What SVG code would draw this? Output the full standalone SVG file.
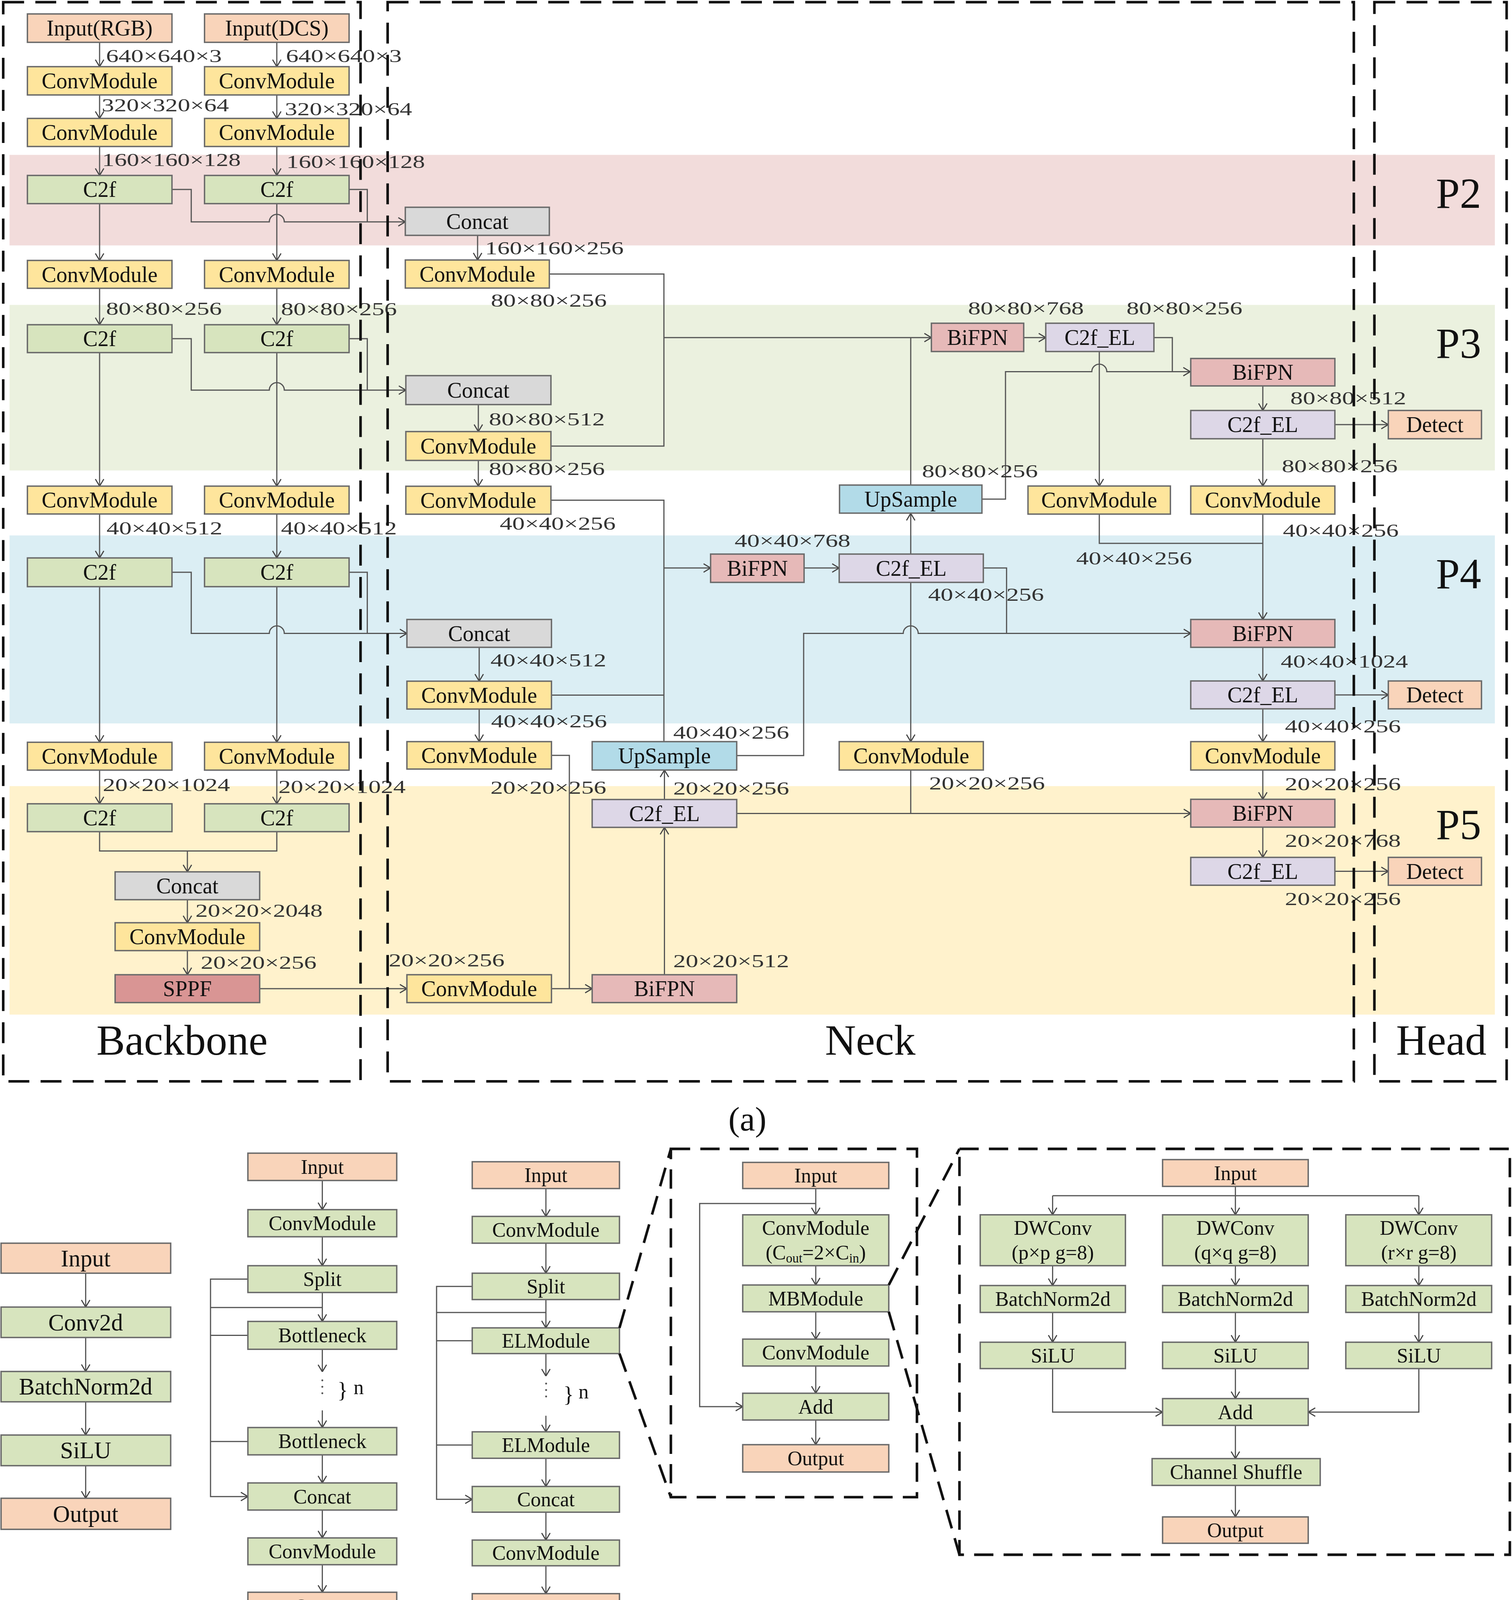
<svg xmlns="http://www.w3.org/2000/svg" width="3872" height="4302" viewBox="0 0 3872 4302">
<defs>
<style>
.n{stroke:#6a6a6a;stroke-width:1.3}
.pe{fill:#f9d4ba}.ye{fill:#fee59c}.gr{fill:#d7e4be}.gy{fill:#d9d9d9}.bi{fill:#e6b9b8}.el{fill:#ddd7e7}.up{fill:#b2dbe8}.sp{fill:#d99594}
.t{font-family:"Liberation Serif","Times New Roman",serif;font-size:20.5px;text-anchor:middle;fill:#111}
.s{font-size:19px}
.b{font-size:22px}
.d{font-family:"Liberation Serif","Times New Roman",serif;font-size:17.3px;fill:#333}
.big{font-family:"Liberation Serif","Times New Roman",serif;font-size:40px;fill:#111}
.lab{font-family:"Liberation Serif","Times New Roman",serif;font-size:32px;fill:#111;text-anchor:middle}
.c{fill:none;stroke:#555;stroke-width:1.1}
.ar{marker-end:url(#ah)}
.dash{fill:none;stroke:#111;stroke-width:2.4;stroke-dasharray:19.5 10.5}
.dash2{fill:none;stroke:#111;stroke-width:2.4;stroke-dasharray:18 9.5}
.dot{fill:#555}
</style>
<marker id="ah" viewBox="0 0 8 10" refX="8" refY="5" markerWidth="7" markerHeight="9" orient="auto" markerUnits="userSpaceOnUse">
<path d="M0.5,0.5 L8,5 L0.5,9.5" fill="none" stroke="#444" stroke-width="1.2"/>
</marker>
</defs>
<rect width="3872" height="4302" fill="#ffffff"/>
<g transform="scale(2.7422 2.7436)">

<g id="bands">
<rect x="8.9" y="144.5" width="1387.1" height="84.5" fill="#f2dcdb"/>
<rect x="8.9" y="284.5" width="1387.1" height="154.5" fill="#ebf1df"/>
<rect x="8.9" y="499.6" width="1387.1" height="175.4" fill="#dbeef4"/>
<rect x="8.9" y="733.5" width="1387.1" height="213.2" fill="#fff2cc"/>
<text class="big" x="1341" y="194">P2</text>
<text class="big" x="1341" y="334">P3</text>
<text class="big" x="1341" y="549">P4</text>
<text class="big" x="1341" y="783">P5</text>
</g>

<g id="connectors">
<path class="c ar" d="M93,39.5 V62.2"/>
<path class="c ar" d="M93,88.6 V110.5"/>
<path class="c ar" d="M93,136.7 V163.7"/>
<path class="c ar" d="M93,190 V243"/>
<path class="c ar" d="M93,269 V303"/>
<path class="c ar" d="M93,329 V453.6"/>
<path class="c ar" d="M93,479.6 V520.6"/>
<path class="c ar" d="M93,547.4 V692.6"/>
<path class="c ar" d="M93,718.6 V750"/>
<path class="c ar" d="M258.5,39.5 V62.2"/>
<path class="c ar" d="M258.5,88.6 V110.5"/>
<path class="c ar" d="M258.5,136.7 V163.7"/>
<path class="c ar" d="M258.5,190 V243"/>
<path class="c ar" d="M258.5,269 V303"/>
<path class="c ar" d="M258.5,329 V453.6"/>
<path class="c ar" d="M258.5,479.6 V520.6"/>
<path class="c ar" d="M258.5,547.4 V692.6"/>
<path class="c ar" d="M258.5,718.6 V750"/>
<path class="c ar" d="M160.6,176.8 H178.6 V207 H251.5 A7,7 0 0 1 265.5,207 H378.5"/>
<path class="c" d="M326,176.8 H343 V207"/>
<path class="c ar" d="M160.6,316 H178.6 V364 H251.5 A7,7 0 0 1 265.5,364 H379"/>
<path class="c" d="M326,316 H343 V364"/>
<path class="c ar" d="M160.6,534 H178.6 V591 H251.5 A7,7 0 0 1 265.5,591 H380"/>
<path class="c" d="M326,534 H343 V591"/>
<path class="c" d="M93,776 V794 H258.5 V776"/>
<path class="c ar" d="M175,794 V813.5"/>
<path class="c ar" d="M175,839.5 V861"/>
<path class="c ar" d="M175,887 V909.5"/>
<path class="c ar" d="M242.5,922.5 H380"/>
<path class="c ar" d="M446,219.6 V242.6"/>
<path class="c" d="M513,255.7 H620 V416.2 H514.5"/>
<path class="c ar" d="M620,315 H869.8"/>
<path class="c" d="M850.5,452.6 V315"/>
<path class="c ar" d="M446.7,377.5 V402.7"/>
<path class="c ar" d="M446.7,429.6 V453.7"/>
<path class="c" d="M514.5,466.7 H620 V692"/>
<path class="c" d="M515,648.6 H620"/>
<path class="c ar" d="M620,530 H663.6"/>
<path class="c ar" d="M447.5,604 V635.6"/>
<path class="c ar" d="M447.5,661.6 V692"/>
<path class="c" d="M515,704.8 H531.7 V922.5"/>
<path class="c ar" d="M515,922.5 H553"/>
<path class="c ar" d="M620.5,909.5 V772"/>
<path class="c ar" d="M620.5,746 V718.5"/>
<path class="c ar" d="M688,705 H750.5 V591 H843.5 A7,7 0 0 1 857.5,591 H1112"/>
<path class="c ar" d="M688,759 H1112"/>
<path class="c" d="M850.5,718.5 V759"/>
<path class="c ar" d="M751,530 H783.7"/>
<path class="c ar" d="M850.5,517 V479"/>
<path class="c ar" d="M850.5,543.4 V692"/>
<path class="c" d="M918.3,530 H940 V591"/>
<path class="c ar" d="M917,465.7 H939 V346.8 H1019.6 A7,7 0 0 1 1033.6,346.8 H1111.6"/>
<path class="c ar" d="M956,315 H976.6"/>
<path class="c" d="M1077.6,315 H1094.8 V346.8"/>
<path class="c ar" d="M1026.6,328 V453.5"/>
<path class="c" d="M1026.6,479.7 V507 H1179.3"/>
<path class="c ar" d="M1179.3,360.1 V383"/>
<path class="c ar" d="M1179.3,409.4 V453.5"/>
<path class="c ar" d="M1179.3,479.7 V578"/>
<path class="c ar" d="M1179.3,604 V635.4"/>
<path class="c ar" d="M1179.3,661.4 V692"/>
<path class="c ar" d="M1179.3,718.5 V745.8"/>
<path class="c ar" d="M1179.3,771.8 V800"/>
<path class="c ar" d="M1246.6,396.2 H1296.5"/>
<path class="c ar" d="M1246.6,648.4 H1296.5"/>
<path class="c ar" d="M1246.6,813 H1296.5"/>
<path class="c ar" d="M80,1188 V1219.6"/>
<path class="c ar" d="M80,1248 V1279.7"/>
<path class="c ar" d="M80,1308 V1339"/>
<path class="c ar" d="M80,1367.6 V1398"/>
<path class="c ar" d="M301,1101.5 V1128.7"/>
<path class="c ar" d="M301,1154 V1181"/>
<path class="c ar" d="M301,1206 V1233"/>
<path class="c ar" d="M301,1259 V1280"/>
<path class="c ar" d="M301,1316 V1332"/>
<path class="c ar" d="M301,1357.5 V1383.7"/>
<path class="c ar" d="M301,1409 V1435"/>
<path class="c ar" d="M301,1460 V1485.7"/>
<path class="c ar" d="M231.5,1193.5 H196.6 V1396.4 H231.5"/>
<path class="c" d="M196.6,1220 H301"/>
<path class="c" d="M231.5,1246 H196.6"/>
<path class="c" d="M231.5,1345 H196.6"/>
<path class="c ar" d="M509.8,1109 V1135"/>
<path class="c ar" d="M509.8,1160 V1188"/>
<path class="c ar" d="M509.8,1212.6 V1239"/>
<path class="c ar" d="M509.8,1263 V1284"/>
<path class="c ar" d="M509.8,1321 V1336"/>
<path class="c ar" d="M509.8,1360.7 V1387"/>
<path class="c ar" d="M509.8,1411 V1437"/>
<path class="c ar" d="M509.8,1461 V1487"/>
<path class="c ar" d="M441,1200.3 H407.7 V1399 H441"/>
<path class="c" d="M407.7,1224.7 H509.8"/>
<path class="c" d="M441,1251 H407.7"/>
<path class="c" d="M441,1348.3 H407.7"/>
<path class="c ar" d="M761.8,1109 V1133.5"/>
<path class="c ar" d="M761.8,1181 V1199"/>
<path class="c ar" d="M761.8,1224 V1249.5"/>
<path class="c ar" d="M761.8,1274.6 V1300"/>
<path class="c ar" d="M761.8,1325 V1348"/>
<path class="c ar" d="M761.8,1123 H653.4 V1312.5 H693.6"/>
<path class="c ar" d="M1153.7,1107 V1133.5"/>
<path class="c" d="M983,1115.7 H1325"/>
<path class="c ar" d="M983,1115.7 V1133.5"/>
<path class="c ar" d="M1325,1115.7 V1133.5"/>
<path class="c ar" d="M983,1181 V1199.5"/>
<path class="c ar" d="M1153.7,1181 V1199.5"/>
<path class="c ar" d="M1325,1181 V1199.5"/>
<path class="c ar" d="M983,1224.6 V1252.4"/>
<path class="c ar" d="M1153.7,1224.6 V1252.4"/>
<path class="c ar" d="M1325,1224.6 V1252.4"/>
<path class="c ar" d="M983,1277 V1317.6 H1085.7"/>
<path class="c ar" d="M1325,1277 V1317.6 H1221.7"/>
<path class="c ar" d="M1153.7,1277 V1305"/>
<path class="c ar" d="M1153.7,1330 V1361"/>
<path class="c ar" d="M1153.7,1386 V1415.4"/>
</g>

<g id="backbone-nodes">
<g id="bb-input-rgb"><rect class="n pe" x="25.6" y="13" width="135" height="26.5"/><text class="t" x="93" y="33.2">Input(RGB)</text></g>
<g id="bb-input-dcs"><rect class="n pe" x="191" y="13" width="135" height="26.5"/><text class="t" x="258.5" y="33.2">Input(DCS)</text></g>
<g id="bb-conv1a"><rect class="n ye" x="25.6" y="62.2" width="135" height="26.4"/><text class="t" x="93" y="82.4">ConvModule</text></g>
<g id="bb-conv1b"><rect class="n ye" x="191" y="62.2" width="135" height="26.4"/><text class="t" x="258.5" y="82.4">ConvModule</text></g>
<g id="bb-conv2a"><rect class="n ye" x="25.6" y="110.5" width="135" height="26.2"/><text class="t" x="93" y="130.6">ConvModule</text></g>
<g id="bb-conv2b"><rect class="n ye" x="191" y="110.5" width="135" height="26.2"/><text class="t" x="258.5" y="130.6">ConvModule</text></g>
<g id="bb-c2f1a"><rect class="n gr" x="25.6" y="163.7" width="135" height="26.3"/><text class="t" x="93" y="183.8">C2f</text></g>
<g id="bb-c2f1b"><rect class="n gr" x="191" y="163.7" width="135" height="26.3"/><text class="t" x="258.5" y="183.8">C2f</text></g>
<g id="bb-conv3a"><rect class="n ye" x="25.6" y="243" width="135" height="26"/><text class="t" x="93" y="263">ConvModule</text></g>
<g id="bb-conv3b"><rect class="n ye" x="191" y="243" width="135" height="26"/><text class="t" x="258.5" y="263">ConvModule</text></g>
<g id="bb-c2f2a"><rect class="n gr" x="25.6" y="303" width="135" height="26"/><text class="t" x="93" y="323">C2f</text></g>
<g id="bb-c2f2b"><rect class="n gr" x="191" y="303" width="135" height="26"/><text class="t" x="258.5" y="323">C2f</text></g>
<g id="bb-conv4a"><rect class="n ye" x="25.6" y="453.6" width="135" height="26"/><text class="t" x="93" y="473.6">ConvModule</text></g>
<g id="bb-conv4b"><rect class="n ye" x="191" y="453.6" width="135" height="26"/><text class="t" x="258.5" y="473.6">ConvModule</text></g>
<g id="bb-c2f3a"><rect class="n gr" x="25.6" y="520.6" width="135" height="26.8"/><text class="t" x="93" y="541">C2f</text></g>
<g id="bb-c2f3b"><rect class="n gr" x="191" y="520.6" width="135" height="26.8"/><text class="t" x="258.5" y="541">C2f</text></g>
<g id="bb-conv5a"><rect class="n ye" x="25.6" y="692.6" width="135" height="26"/><text class="t" x="93" y="712.6">ConvModule</text></g>
<g id="bb-conv5b"><rect class="n ye" x="191" y="692.6" width="135" height="26"/><text class="t" x="258.5" y="712.6">ConvModule</text></g>
<g id="bb-c2f4a"><rect class="n gr" x="25.6" y="750" width="135" height="26"/><text class="t" x="93" y="770">C2f</text></g>
<g id="bb-c2f4b"><rect class="n gr" x="191" y="750" width="135" height="26"/><text class="t" x="258.5" y="770">C2f</text></g>
<g id="bb-concat"><rect class="n gy" x="107.5" y="813.5" width="135" height="26"/><text class="t" x="175" y="833.5">Concat</text></g>
<g id="bb-conv6"><rect class="n ye" x="107.5" y="861" width="135" height="26"/><text class="t" x="175" y="881">ConvModule</text></g>
<g id="bb-sppf"><rect class="n sp" x="107.5" y="909.5" width="135" height="26"/><text class="t" x="175" y="929.5">SPPF</text></g>
</g>

<g id="neck-nodes">
<g id="nk-concat1"><rect class="n gy" x="378.5" y="193.4" width="134.5" height="26.2"/><text class="t" x="445.8" y="213.5">Concat</text></g>
<g id="nk-conv1"><rect class="n ye" x="378.5" y="242.6" width="134.5" height="26.2"/><text class="t" x="445.8" y="262.7">ConvModule</text></g>
<g id="nk-concat2"><rect class="n gy" x="379" y="350.5" width="135.5" height="27"/><text class="t" x="446.7" y="371">Concat</text></g>
<g id="nk-conv2"><rect class="n ye" x="379" y="402.7" width="135.5" height="26.9"/><text class="t" x="446.7" y="423.1">ConvModule</text></g>
<g id="nk-conv3"><rect class="n ye" x="379" y="453.7" width="135.5" height="26.1"/><text class="t" x="446.7" y="473.8">ConvModule</text></g>
<g id="nk-concat3"><rect class="n gy" x="380" y="578" width="135" height="26"/><text class="t" x="447.5" y="598">Concat</text></g>
<g id="nk-conv4"><rect class="n ye" x="380" y="635.6" width="135" height="26"/><text class="t" x="447.5" y="655.6">ConvModule</text></g>
<g id="nk-conv5"><rect class="n ye" x="380" y="692" width="135" height="25.6"/><text class="t" x="447.5" y="711.8">ConvModule</text></g>
<g id="nk-conv6"><rect class="n ye" x="380" y="909.5" width="135" height="26"/><text class="t" x="447.5" y="929.5">ConvModule</text></g>
<g id="nk-upsample1"><rect class="n up" x="553" y="692" width="135" height="26.5"/><text class="t" x="620.5" y="712.2">UpSample</text></g>
<g id="nk-c2fel1"><rect class="n el" x="553" y="746" width="135" height="26"/><text class="t" x="620.5" y="766">C2f_EL</text></g>
<g id="nk-bifpn1"><rect class="n bi" x="553" y="909.5" width="135" height="26"/><text class="t" x="620.5" y="929.5">BiFPN</text></g>
<g id="nk-bifpn2"><rect class="n bi" x="663.6" y="517" width="87.3" height="26.4"/><text class="t" x="707.3" y="537.2">BiFPN</text></g>
<g id="nk-c2fel2"><rect class="n el" x="783.7" y="517" width="134.6" height="26.4"/><text class="t" x="851" y="537.2">C2f_EL</text></g>
<g id="nk-upsample2"><rect class="n up" x="784" y="452.6" width="133" height="26.2"/><text class="t" x="850.5" y="472.7">UpSample</text></g>
<g id="nk-conv7"><rect class="n ye" x="783.7" y="692" width="134.6" height="26.5"/><text class="t" x="851" y="712.2">ConvModule</text></g>
<g id="nk-bifpn3"><rect class="n bi" x="869.8" y="301.6" width="86.2" height="26.4"/><text class="t" x="912.9" y="321.8">BiFPN</text></g>
<g id="nk-c2fel3"><rect class="n el" x="976.6" y="301.6" width="101" height="26.4"/><text class="t" x="1027.1" y="321.8">C2f_EL</text></g>
<g id="nk-conv8"><rect class="n ye" x="960" y="453.5" width="133" height="26.2"/><text class="t" x="1026.5" y="473.6">ConvModule</text></g>
</g>

<g id="head-nodes">
<g id="hd-bifpn1"><rect class="n bi" x="1112" y="334.5" width="134.6" height="25.6"/><text class="t" x="1179.3" y="354.3">BiFPN</text></g>
<g id="hd-c2fel1"><rect class="n el" x="1112" y="383" width="134.6" height="26.4"/><text class="t" x="1179.3" y="403.2">C2f_EL</text></g>
<g id="hd-conv1"><rect class="n ye" x="1112" y="453.5" width="134.6" height="26.2"/><text class="t" x="1179.3" y="473.6">ConvModule</text></g>
<g id="hd-bifpn2"><rect class="n bi" x="1112" y="578" width="134.6" height="26"/><text class="t" x="1179.3" y="598">BiFPN</text></g>
<g id="hd-c2fel2"><rect class="n el" x="1112" y="635.4" width="134.6" height="26"/><text class="t" x="1179.3" y="655.4">C2f_EL</text></g>
<g id="hd-conv2"><rect class="n ye" x="1112" y="692" width="134.6" height="26.5"/><text class="t" x="1179.3" y="712.2">ConvModule</text></g>
<g id="hd-bifpn3"><rect class="n bi" x="1112" y="745.8" width="134.6" height="26"/><text class="t" x="1179.3" y="765.8">BiFPN</text></g>
<g id="hd-c2fel3"><rect class="n el" x="1112" y="800" width="134.6" height="26"/><text class="t" x="1179.3" y="820">C2f_EL</text></g>
<g id="hd-detect1"><rect class="n pe" x="1296.5" y="383" width="87" height="26.4"/><text class="t" x="1340" y="403.2">Detect</text></g>
<g id="hd-detect2"><rect class="n pe" x="1296.5" y="635.4" width="87" height="26"/><text class="t" x="1340" y="655.4">Detect</text></g>
<g id="hd-detect3"><rect class="n pe" x="1296.5" y="800" width="87" height="26"/><text class="t" x="1340" y="820">Detect</text></g>
</g>

<g id="dims">
<text class="d" x="99" y="58.1" textLength="108.2" lengthAdjust="spacingAndGlyphs">640×640×3</text>
<text class="d" x="267" y="58.1" textLength="108.2" lengthAdjust="spacingAndGlyphs">640×640×3</text>
<text class="d" x="95" y="103.8" textLength="118.8" lengthAdjust="spacingAndGlyphs">320×320×64</text>
<text class="d" x="266" y="107.4" textLength="118.8" lengthAdjust="spacingAndGlyphs">320×320×64</text>
<text class="d" x="95.4" y="154.8" textLength="129.4" lengthAdjust="spacingAndGlyphs">160×160×128</text>
<text class="d" x="267.5" y="156.8" textLength="129.4" lengthAdjust="spacingAndGlyphs">160×160×128</text>
<text class="d" x="99" y="293.8" textLength="108.2" lengthAdjust="spacingAndGlyphs">80×80×256</text>
<text class="d" x="262.4" y="294.3" textLength="108.2" lengthAdjust="spacingAndGlyphs">80×80×256</text>
<text class="d" x="99.5" y="498.5" textLength="108.2" lengthAdjust="spacingAndGlyphs">40×40×512</text>
<text class="d" x="262.4" y="498.5" textLength="108.2" lengthAdjust="spacingAndGlyphs">40×40×512</text>
<text class="d" x="96" y="738.2" textLength="118.8" lengthAdjust="spacingAndGlyphs">20×20×1024</text>
<text class="d" x="260" y="739.8" textLength="118.8" lengthAdjust="spacingAndGlyphs">20×20×1024</text>
<text class="d" x="182.5" y="855.4" textLength="118.8" lengthAdjust="spacingAndGlyphs">20×20×2048</text>
<text class="d" x="187.4" y="903.8" textLength="108.2" lengthAdjust="spacingAndGlyphs">20×20×256</text>
<text class="d" x="453" y="237.3" textLength="129.4" lengthAdjust="spacingAndGlyphs">160×160×256</text>
<text class="d" x="458.4" y="286.1" textLength="108.2" lengthAdjust="spacingAndGlyphs">80×80×256</text>
<text class="d" x="456.6" y="397.1" textLength="108.2" lengthAdjust="spacingAndGlyphs">80×80×512</text>
<text class="d" x="456.6" y="443.1" textLength="108.2" lengthAdjust="spacingAndGlyphs">80×80×256</text>
<text class="d" x="466.7" y="494.4" textLength="108.2" lengthAdjust="spacingAndGlyphs">40×40×256</text>
<text class="d" x="458" y="621.8" textLength="108.2" lengthAdjust="spacingAndGlyphs">40×40×512</text>
<text class="d" x="458.6" y="678.8" textLength="108.2" lengthAdjust="spacingAndGlyphs">40×40×256</text>
<text class="d" x="458" y="740.8" textLength="108.2" lengthAdjust="spacingAndGlyphs">20×20×256</text>
<text class="d" x="363" y="901.8" textLength="108.2" lengthAdjust="spacingAndGlyphs">20×20×256</text>
<text class="d" x="628.7" y="689.3" textLength="108.2" lengthAdjust="spacingAndGlyphs">40×40×256</text>
<text class="d" x="628.7" y="741.4" textLength="108.2" lengthAdjust="spacingAndGlyphs">20×20×256</text>
<text class="d" x="628.7" y="902.3" textLength="108.2" lengthAdjust="spacingAndGlyphs">20×20×512</text>
<text class="d" x="686" y="510.2" textLength="108.2" lengthAdjust="spacingAndGlyphs">40×40×768</text>
<text class="d" x="866.7" y="560.6" textLength="108.2" lengthAdjust="spacingAndGlyphs">40×40×256</text>
<text class="d" x="867.6" y="736.8" textLength="108.2" lengthAdjust="spacingAndGlyphs">20×20×256</text>
<text class="d" x="861" y="445.3" textLength="108.2" lengthAdjust="spacingAndGlyphs">80×80×256</text>
<text class="d" x="904" y="293.5" textLength="108.2" lengthAdjust="spacingAndGlyphs">80×80×768</text>
<text class="d" x="1052" y="293.5" textLength="108.2" lengthAdjust="spacingAndGlyphs">80×80×256</text>
<text class="d" x="1005" y="526.6" textLength="108.2" lengthAdjust="spacingAndGlyphs">40×40×256</text>
<text class="d" x="1205" y="377.4" textLength="108.2" lengthAdjust="spacingAndGlyphs">80×80×512</text>
<text class="d" x="1197" y="440.8" textLength="108.2" lengthAdjust="spacingAndGlyphs">80×80×256</text>
<text class="d" x="1198" y="500.8" textLength="108.2" lengthAdjust="spacingAndGlyphs">40×40×256</text>
<text class="d" x="1196" y="622.8" textLength="118.8" lengthAdjust="spacingAndGlyphs">40×40×1024</text>
<text class="d" x="1200" y="683.5" textLength="108.2" lengthAdjust="spacingAndGlyphs">40×40×256</text>
<text class="d" x="1200" y="737.4" textLength="108.2" lengthAdjust="spacingAndGlyphs">20×20×256</text>
<text class="d" x="1200" y="790.3" textLength="108.2" lengthAdjust="spacingAndGlyphs">20×20×768</text>
<text class="d" x="1200" y="844.6" textLength="108.2" lengthAdjust="spacingAndGlyphs">20×20×256</text>
</g>

<g id="frames">
<rect class="dash" x="3" y="2" width="333.7" height="1007"/>
<rect class="dash" x="362" y="2" width="902.3" height="1007"/>
<rect class="dash" x="1283.5" y="2" width="123.5" height="1007"/>
<text class="big" x="170" y="984" text-anchor="middle">Backbone</text>
<text class="big" x="812.7" y="984" text-anchor="middle">Neck</text>
<text class="big" x="1346" y="984" text-anchor="middle" font-size="39">Head</text>
<text class="lab" x="698" y="1055">(a)</text>
</g>

<g id="b-nodes">
<g id="b-input"><rect class="n pe" x="1" y="1160" width="158.4" height="28"/><text class="t b" x="80" y="1181.5">Input</text></g>
<g id="b-conv2d"><rect class="n gr" x="1" y="1219.6" width="158.4" height="28.4"/><text class="t b" x="80" y="1241.3">Conv2d</text></g>
<g id="b-bn"><rect class="n gr" x="1" y="1279.7" width="158.4" height="28.3"/><text class="t b" x="80" y="1301.3">BatchNorm2d</text></g>
<g id="b-silu"><rect class="n gr" x="1" y="1339" width="158.4" height="28.6"/><text class="t b" x="80" y="1360.8">SiLU</text></g>
<g id="b-output"><rect class="n pe" x="1" y="1398" width="158.4" height="29"/><text class="t b" x="80" y="1420">Output</text></g>
<text class="lab" x="79" y="1562">(b)</text>
</g>

<g id="c-nodes">
<g id="c-input"><rect class="n pe" x="231.5" y="1076" width="139" height="25.5"/><text class="t s" x="301" y="1095.3">Input</text></g>
<g id="c-conv1"><rect class="n gr" x="231.5" y="1128.7" width="139" height="25.3"/><text class="t s" x="301" y="1147.9">ConvModule</text></g>
<g id="c-split"><rect class="n gr" x="231.5" y="1181" width="139" height="25"/><text class="t s" x="301" y="1200">Split</text></g>
<g id="c-bottleneck1"><rect class="n gr" x="231.5" y="1233" width="139" height="26"/><text class="t s" x="301" y="1252.5">Bottleneck</text></g>
<g id="c-bottleneck2"><rect class="n gr" x="231.5" y="1332" width="139" height="25.5"/><text class="t s" x="301" y="1351.3">Bottleneck</text></g>
<g id="c-concat"><rect class="n gr" x="231.5" y="1383.7" width="139" height="25.3"/><text class="t s" x="301" y="1402.9">Concat</text></g>
<g id="c-conv2"><rect class="n gr" x="231.5" y="1435" width="139" height="25"/><text class="t s" x="301" y="1454">ConvModule</text></g>
<g id="c-output"><rect class="n pe" x="231.5" y="1485.7" width="139" height="26.3"/><text class="t s" x="301" y="1505.4">Output</text></g>
<circle class="dot" cx="301" cy="1288" r="0.9"/><circle class="dot" cx="301" cy="1294" r="0.9"/><circle class="dot" cx="301" cy="1300" r="0.9"/>
<text class="t" x="320" y="1304" font-size="28">}</text>
<text class="t s" x="335" y="1301">n</text>
<text class="lab" x="283" y="1562">(c)</text>
</g>

<g id="e-nodes">
<g id="e-input"><rect class="n pe" x="441" y="1084" width="137.5" height="25"/><text class="t s" x="509.8" y="1103">Input</text></g>
<g id="e-conv1"><rect class="n gr" x="441" y="1135" width="137.5" height="25"/><text class="t s" x="509.8" y="1154">ConvModule</text></g>
<g id="e-split"><rect class="n gr" x="441" y="1188" width="137.5" height="24.6"/><text class="t s" x="509.8" y="1206.8">Split</text></g>
<g id="e-elmodule1"><rect class="n gr" x="441" y="1239" width="137.5" height="24"/><text class="t s" x="509.8" y="1257.5">ELModule</text></g>
<g id="e-elmodule2"><rect class="n gr" x="441" y="1336" width="137.5" height="24.7"/><text class="t s" x="509.8" y="1354.9">ELModule</text></g>
<g id="e-concat"><rect class="n gr" x="441" y="1387" width="137.5" height="24"/><text class="t s" x="509.8" y="1405.5">Concat</text></g>
<g id="e-conv2"><rect class="n gr" x="441" y="1437" width="137.5" height="24"/><text class="t s" x="509.8" y="1455.5">ConvModule</text></g>
<g id="e-output"><rect class="n pe" x="441" y="1487" width="137.5" height="25"/><text class="t s" x="509.8" y="1506">Output</text></g>
<circle class="dot" cx="510" cy="1291" r="0.9"/><circle class="dot" cx="510" cy="1297" r="0.9"/><circle class="dot" cx="510" cy="1303" r="0.9"/>
<text class="t" x="531" y="1308" font-size="28">}</text>
<text class="t s" x="545" y="1305">n</text>
</g>

<g id="d1-nodes">
<g id="d1-input"><rect class="n pe" x="693.6" y="1084.6" width="136.4" height="24.4"/><text class="t s" x="761.8" y="1103.3">Input</text></g>
<g id="d1-conv1"><rect class="n gr" x="693.6" y="1133.5" width="136.4" height="47.5"/><text class="t s" x="761.8" y="1152">ConvModule</text><text class="t s" x="761.8" y="1175">(C<tspan font-size="12" dy="3">out</tspan><tspan dy="-3">=2×C</tspan><tspan font-size="12" dy="3">in</tspan><tspan dy="-3">)</tspan></text></g>
<g id="d1-mbmodule"><rect class="n gr" x="693.6" y="1199" width="136.4" height="25"/><text class="t s" x="761.8" y="1218">MBModule</text></g>
<g id="d1-conv2"><rect class="n gr" x="693.6" y="1249.5" width="136.4" height="25.1"/><text class="t s" x="761.8" y="1268.5">ConvModule</text></g>
<g id="d1-add"><rect class="n gr" x="693.6" y="1300" width="136.4" height="25"/><text class="t s" x="761.8" y="1319">Add</text></g>
<g id="d1-output"><rect class="n pe" x="693.6" y="1348" width="136.4" height="25.5"/><text class="t s" x="761.8" y="1367.3">Output</text></g>
</g>

<g id="d2-nodes">
<g id="d2-input"><rect class="n pe" x="1085.7" y="1082" width="136" height="25"/><text class="t s" x="1153.7" y="1101">Input</text></g>
<g id="d2-dw1"><rect class="n gr" x="915.4" y="1133.5" width="135.6" height="47.5"/><text class="t s" x="983.2" y="1152">DWConv</text><text class="t s" x="983.2" y="1175">(p×p g=8)</text></g>
<g id="d2-dw2"><rect class="n gr" x="1085.7" y="1133.5" width="136" height="47.5"/><text class="t s" x="1153.7" y="1152">DWConv</text><text class="t s" x="1153.7" y="1175">(q×q g=8)</text></g>
<g id="d2-dw3"><rect class="n gr" x="1256.8" y="1133.5" width="136.2" height="47.5"/><text class="t s" x="1325" y="1152">DWConv</text><text class="t s" x="1325" y="1175">(r×r g=8)</text></g>
<g id="d2-bn1"><rect class="n gr" x="915.4" y="1199.5" width="135.6" height="25.1"/><text class="t s" x="983.2" y="1218.5">BatchNorm2d</text></g>
<g id="d2-bn2"><rect class="n gr" x="1085.7" y="1199.5" width="136" height="25.1"/><text class="t s" x="1153.7" y="1218.5">BatchNorm2d</text></g>
<g id="d2-bn3"><rect class="n gr" x="1256.8" y="1199.5" width="136.2" height="25.1"/><text class="t s" x="1325" y="1218.5">BatchNorm2d</text></g>
<g id="d2-silu1"><rect class="n gr" x="915.4" y="1252.4" width="135.6" height="24.6"/><text class="t s" x="983.2" y="1271.2">SiLU</text></g>
<g id="d2-silu2"><rect class="n gr" x="1085.7" y="1252.4" width="136" height="24.6"/><text class="t s" x="1153.7" y="1271.2">SiLU</text></g>
<g id="d2-silu3"><rect class="n gr" x="1256.8" y="1252.4" width="136.2" height="24.6"/><text class="t s" x="1325" y="1271.2">SiLU</text></g>
<g id="d2-add"><rect class="n gr" x="1085.7" y="1305" width="136" height="25"/><text class="t s" x="1153.7" y="1324">Add</text></g>
<g id="d2-shuffle"><rect class="n gr" x="1075.9" y="1361" width="157" height="25"/><text class="t s" x="1154.4" y="1380">Channel Shuffle</text></g>
<g id="d2-output"><rect class="n pe" x="1085.7" y="1415.4" width="136" height="24.6"/><text class="t s" x="1153.7" y="1434.2">Output</text></g>
<text class="lab" x="902" y="1562">(d)</text>
</g>

<g id="zoom-frames">
<path class="dash2" d="M578.5,1239 L626.5,1072"/>
<path class="dash2" d="M578.5,1263 L626.5,1397"/>
<rect class="dash2" x="626.5" y="1072" width="229.8" height="325"/>
<path class="dash2" d="M830,1199 L896,1072"/>
<path class="dash2" d="M830,1224 L896,1450.7"/>
<rect class="dash2" x="896" y="1072" width="514" height="378.7"/>
</g>

</g>
</svg>
